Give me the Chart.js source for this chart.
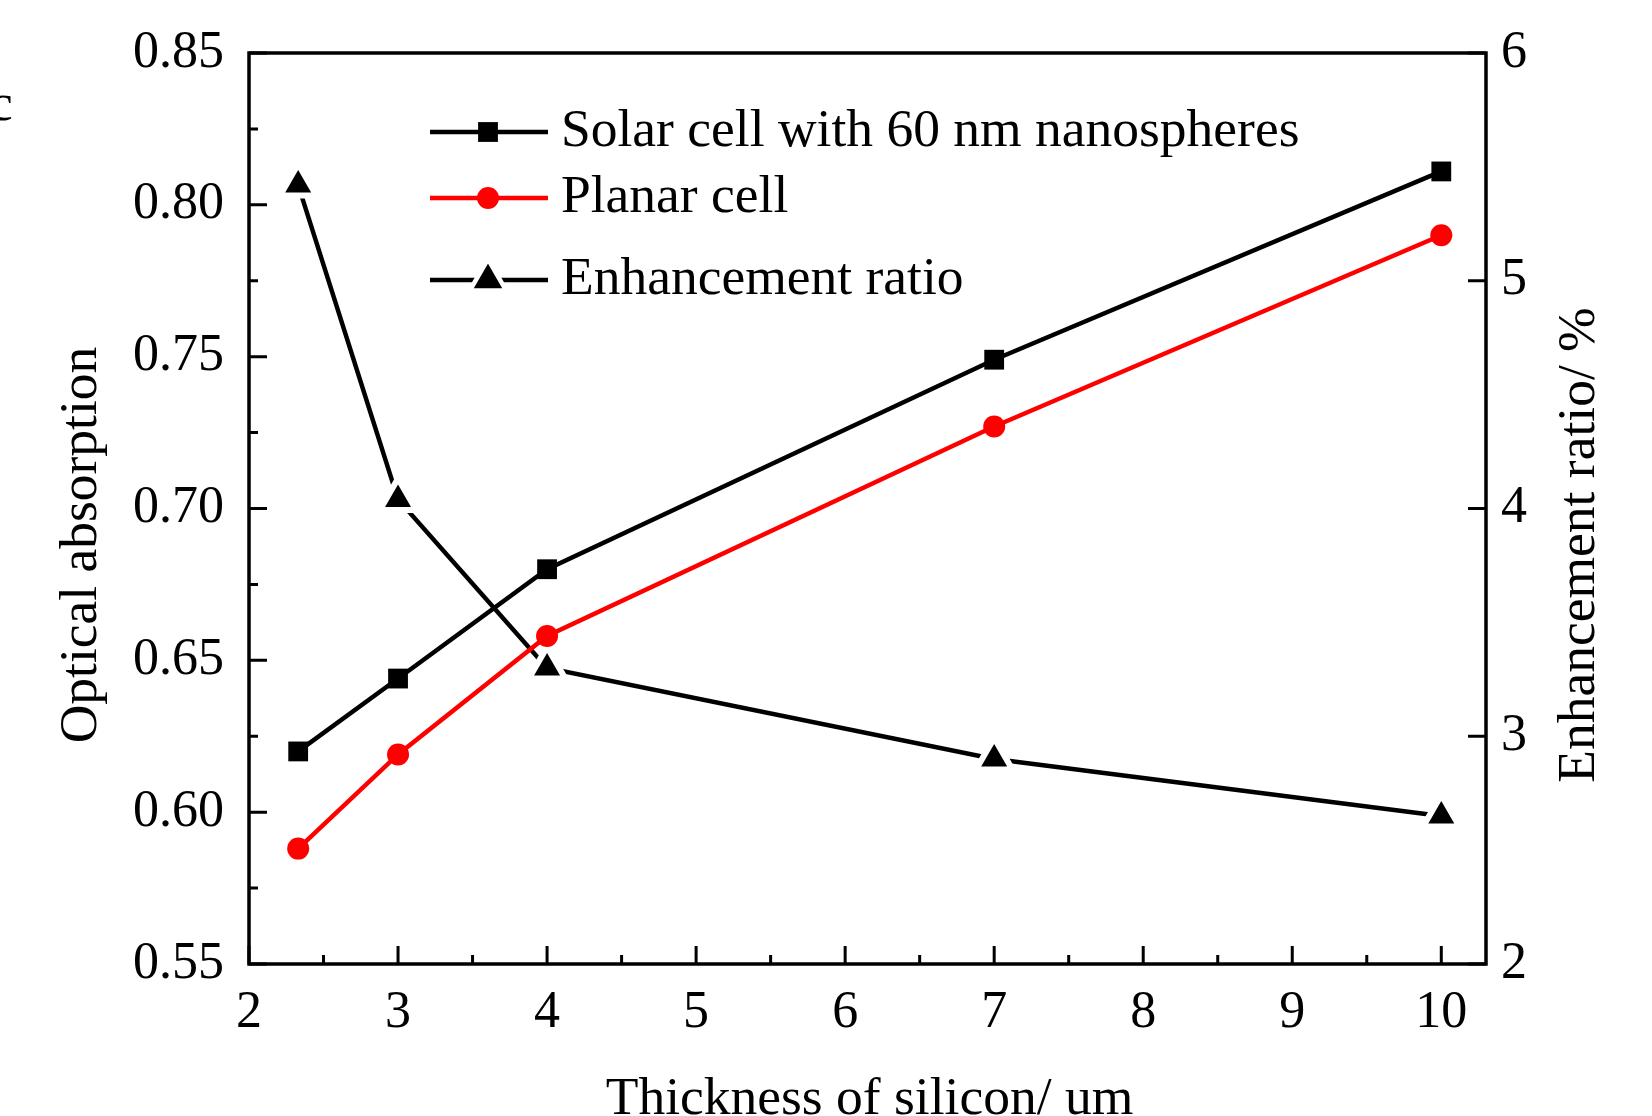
<!DOCTYPE html>
<html>
<head>
<meta charset="utf-8">
<script src="https://cdn.jsdelivr.net/npm/chart.js@4"></script>
<style>
  body { margin: 0; background: #fff; }
  canvas { display: block; }
</style>
</head>
<body>
<canvas id="absChart" width="1652" height="1116"></canvas>
<script>
// silicon thickness (um)
const thickness = [2.33, 3, 4, 7, 10];
const solarCell = [0.620, 0.644, 0.680, 0.749, 0.811];
const planarCell = [0.588, 0.619, 0.658, 0.727, 0.790];
const enhancement = [5.42, 4.04, 3.30, 2.90, 2.65];

const xTicks = [2, 3, 4, 5, 6, 7, 8, 9, 10];
const yTicks = [0.55, 0.60, 0.65, 0.70, 0.75, 0.80, 0.85];
const y1Ticks = [2, 3, 4, 5, 6];

const seriesNames = ["Solar cell with 60 nm nanospheres", "Planar cell", "Enhancement ratio"];

const FONT = "'Liberation Serif', 'Times New Roman', serif";
Chart.defaults.font.family = FONT;
Chart.defaults.font.size = 52;
Chart.defaults.color = "#000";

function toPoints(xs, ys) {
    return xs.map((v, i) => ({ x: v, y: ys[i] }));
}

// frame, inward ticks, titles, legend
const decorPlugin = {
    id: "decor",
    afterDraw(chart) {
        const ctx = chart.ctx;
        const { left, right, top, bottom } = chart.chartArea;
        const { x, y, y1 } = chart.scales;
        ctx.save();
        ctx.strokeStyle = "#000";
        ctx.lineWidth = 3.5;
        ctx.strokeRect(left, top, right - left, bottom - top);

        ctx.lineWidth = 3;
        ctx.beginPath();
        xTicks.forEach(v => {
            let px = x.getPixelForValue(v);
            ctx.moveTo(px, bottom); ctx.lineTo(px, bottom - 18);
            if (v < 10) {
                px = x.getPixelForValue(v + 0.5);
                ctx.moveTo(px, bottom); ctx.lineTo(px, bottom - 9);
            }
        });
        yTicks.forEach((v, i) => {
            let py = y.getPixelForValue(v);
            ctx.moveTo(left, py); ctx.lineTo(left + 18, py);
            if (i < yTicks.length - 1) {
                py = y.getPixelForValue(v + 0.025);
                ctx.moveTo(left, py); ctx.lineTo(left + 9, py);
            }
        });
        y1Ticks.forEach(v => {
            const py = y1.getPixelForValue(v);
            ctx.moveTo(right, py); ctx.lineTo(right - 18, py);
        });
        ctx.stroke();

        // axis titles
        ctx.fillStyle = "#000";
        ctx.font = "53.5px " + FONT;
        ctx.textAlign = "center";
        ctx.textBaseline = "middle";
        ctx.save();
        ctx.translate(82, 545);
        ctx.rotate(-Math.PI / 2);
        ctx.fillText("Optical absorption", 0, 0);
        ctx.restore();
        ctx.save();
        ctx.translate(1580, 545);
        ctx.rotate(-Math.PI / 2);
        ctx.fillText("Enhancement ratio/ %", 0, 0);
        ctx.restore();
        ctx.textBaseline = "alphabetic";
        ctx.fillText("Thickness of silicon/ um", (left + right) / 2 + 2, 1114);

        // leftover panel letter
        ctx.textAlign = "left";
        ctx.fillText("c", -11, 120);

        // legend
        const rows = [132, 198, 280];
        chart.data.datasets.forEach((ds, i) => {
            const ry = rows[i];
            ctx.strokeStyle = ds.borderColor;
            ctx.lineWidth = ds.borderWidth;
            ctx.beginPath();
            ctx.moveTo(430, ry); ctx.lineTo(548, ry);
            ctx.stroke();
            ctx.fillStyle = ds.pointBackgroundColor;
            ctx.strokeStyle = ds.pointBorderColor;
            Chart.helpers.drawPoint(ctx, {
                pointStyle: ds.pointStyle,
                radius: ds.pointRadius,
                rotation: 0,
                borderWidth: ds.pointBorderWidth
            }, 488, ry);
            ctx.fillStyle = "#000";
            ctx.textBaseline = "middle";
            ctx.fillText(seriesNames[i], 561, ry);
        });
        ctx.restore();
    }
};

new Chart(document.getElementById("absChart"), {
    type: "line",
    data: {
        datasets: [
            {
                label: seriesNames[0],
                data: toPoints(thickness, solarCell),
                yAxisID: "y",
                borderColor: "#000",
                borderWidth: 4.5,
                pointStyle: "rect",
                pointRadius: 14,
                pointBackgroundColor: "#000",
                pointBorderColor: "#000",
                pointBorderWidth: 0
            },
            {
                label: seriesNames[1],
                data: toPoints(thickness, planarCell),
                yAxisID: "y",
                borderColor: "#ff0000",
                borderWidth: 4.5,
                pointStyle: "circle",
                pointRadius: 11,
                pointBackgroundColor: "#ff0000",
                pointBorderColor: "#ff0000",
                pointBorderWidth: 0
            },
            {
                label: seriesNames[2],
                data: toPoints(thickness, enhancement),
                yAxisID: "y1",
                borderColor: "#000",
                borderWidth: 4.5,
                pointStyle: "triangle",
                pointRadius: 21,
                pointBackgroundColor: "#000",
                pointBorderColor: "#fff",
                pointBorderWidth: 6
            }
        ]
    },
    options: {
        responsive: false,
        animation: false,
        events: [],
        layout: { padding: { top: 53, left: 0, right: 0, bottom: 0 } },
        plugins: { legend: { display: false }, tooltip: { enabled: false } },
        scales: {
            x: {
                type: "linear",
                min: 2,
                max: 10.3,
                grid: { display: false },
                border: { display: false },
                afterBuildTicks: s => { s.ticks = xTicks.map(v => ({ value: v })); },
                afterFit: s => { s.height = 152; },
                ticks: { padding: 10, maxRotation: 0 }
            },
            y: {
                position: "left",
                min: 0.55,
                max: 0.85,
                grid: { display: false },
                border: { display: false },
                afterBuildTicks: s => { s.ticks = yTicks.map(v => ({ value: v })); },
                afterFit: s => { s.width = 249; },
                ticks: { padding: 17, callback: v => v.toFixed(2) }
            },
            y1: {
                position: "right",
                min: 2,
                max: 6,
                grid: { display: false },
                border: { display: false },
                afterBuildTicks: s => { s.ticks = y1Ticks.map(v => ({ value: v })); },
                afterFit: s => { s.width = 166; },
                ticks: { padding: 7 }
            }
        }
    },
    plugins: [decorPlugin]
});
</script>
</body>
</html>
